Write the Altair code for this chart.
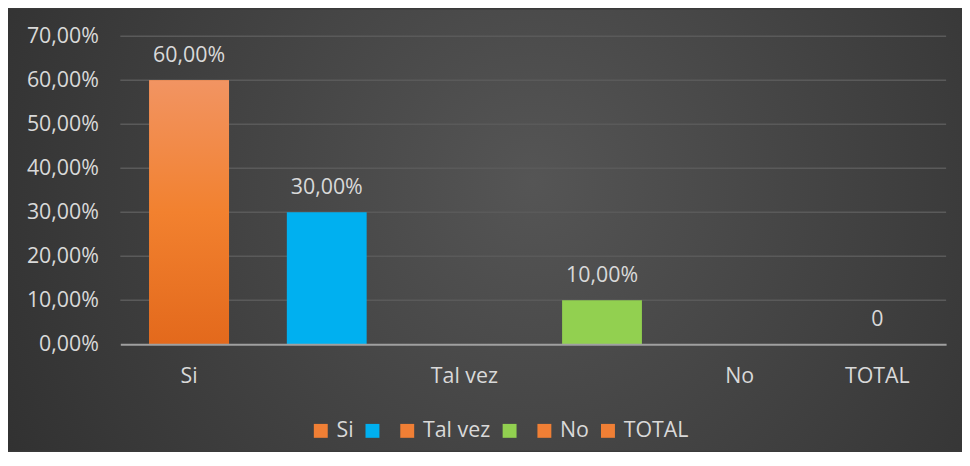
import altair as alt
import pandas as pd

# ---- data ----
categories = ["Si", "blank1", "Tal vez", "blank2", "No", "TOTAL"]
values = [0.60, 0.30, None, 0.10, None, 0.0]
value_labels = ["60,00%", "30,00%", "", "10,00%", "", "0"]
y_ticks = [0.0, 0.1, 0.2, 0.3, 0.4, 0.5, 0.6, 0.7]

# ---- style ----
ORANGE = "#F07F35"
bar_colors = [ORANGE, "#00B0F0", ORANGE, "#92D050", ORANGE, ORANGE]
TXT = "#D9D9D9"
FONT = "Open Sans"
FS = 21.5
W, H = 831, 310
PAD = {"left": 113, "top": 27, "right": 16, "bottom": 107}

df = pd.DataFrame({"cat": categories, "value": values, "text": value_labels})
grid_df = pd.DataFrame({"value": y_ticks[1:]})
bg_df = pd.DataFrame({"d": [0]})

blank_expr = "indexof(datum.value, 'blank') === 0 ? '' : datum.value"

x_enc = alt.X(
    "cat:N",
    sort=categories,
    scale=alt.Scale(domain=categories, paddingInner=0.42, paddingOuter=0.21),
    axis=alt.Axis(
        title=None, labelExpr=blank_expr, ticks=False, grid=False,
        domainColor="#A0A0A0", domainWidth=2, labelFontSize=FS,
        labelColor=TXT, labelFont=FONT, labelPadding=21, labelAngle=0, zindex=1,
    ),
)
y_scale = alt.Scale(domain=[0, 0.7], nice=False, zero=True)
y_axis = alt.Axis(
    title=None, values=y_ticks, grid=False, domain=False, ticks=False,
    labelExpr="replace(format(datum.value, '.2%'), '.', ',')",
    labelFontSize=FS, labelColor=TXT, labelFont=FONT, labelPadding=22, zindex=1,
)
y_enc = alt.Y("value:Q", scale=y_scale, axis=y_axis)

background = alt.Chart(bg_df).mark_rect(
    color=alt.RadialGradient(
        gradient="radial", x1=0.55, y1=0.45, r1=0, x2=0.55, y2=0.45, r2=0.78,
        stops=[alt.GradientStop(color="#555555", offset=0),
               alt.GradientStop(color="#282828", offset=1)],
    )
).encode(
    x=alt.value(-PAD["left"]), x2=alt.value(W + PAD["right"]),
    y=alt.value(-PAD["top"]), y2=alt.value(H + PAD["bottom"]),
)

grid = alt.Chart(grid_df).mark_rule(color="#5A5A5A", strokeWidth=1.5).encode(
    y=y_enc,
    x=alt.value(0), x2=alt.value(W),
)

bars = alt.Chart(df).mark_bar().encode(
    x=x_enc,
    y=y_enc,
    color=alt.Color(
        "cat:N",
        scale=alt.Scale(domain=categories, range=bar_colors),
        legend=alt.Legend(
            orient="none", legendX=191, legendY=386, direction="horizontal",
            columns=6, title=None, symbolType="square", symbolSize=196,
            symbolStrokeWidth=0, symbolOpacity=1, labelFontSize=FS, labelColor=TXT,
            labelFont=FONT, labelOffset=5, columnPadding=8, labelExpr=blank_expr,
        ),
    ),
)

orange_cats = [c for c, col in zip(categories, bar_colors) if col == ORANGE]
orange_bars = alt.Chart(df).transform_filter(
    alt.FieldOneOfPredicate(field="cat", oneOf=orange_cats)
).transform_filter("isValid(datum.value)").mark_bar(
    color=alt.LinearGradient(
        gradient="linear", x1=0, x2=0, y1=0, y2=1,
        stops=[alt.GradientStop(color="#F29462", offset=0),
               alt.GradientStop(color="#F2812F", offset=0.5),
               alt.GradientStop(color="#E3691C", offset=1)],
    )
).encode(x=alt.X("cat:N", sort=categories), y=y_enc)

labels = alt.Chart(df).transform_filter("datum.text !== ''").mark_text(
    fontSize=FS, font=FONT, color=TXT, dy=-24, baseline="middle"
).encode(x=alt.X("cat:N", sort=categories), y=y_enc, text="text:N")

chart = alt.layer(background, grid, bars, orange_bars, labels).properties(
    width=W, height=H,
    autosize=alt.AutoSizeParams(type="none"),
    padding=PAD,
    background="#3A3A3A",
).configure_view(stroke=None)

chart.save("out.html", embed_options={"renderer": "svg", "actions": False})
